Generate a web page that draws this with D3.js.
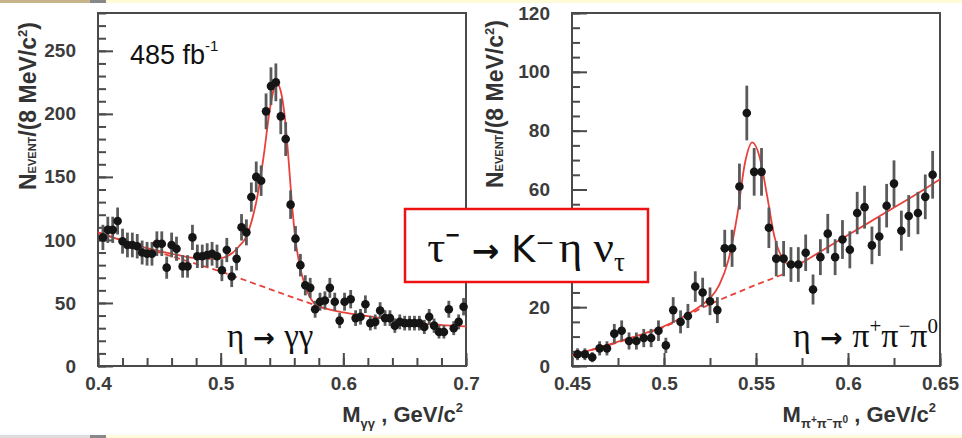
<!DOCTYPE html>
<html>
<head>
<meta charset="utf-8">
<script src="https://cdn.jsdelivr.net/npm/d3@7"></script>
<style>
  body { margin: 0; background: #fff; }
  svg text { font-family: "Liberation Sans", Arial, sans-serif; }
</style>
</head>
<body>
<svg id="chart" width="962" height="438"></svg>
<script>
// ---- left panel: eta -> gamma gamma ----
var ggMass = [0.404,0.408,0.412,0.416,0.420,0.424,0.428,0.432,0.436,0.440,
              0.444,0.448,0.452,0.456,0.460,0.464,0.469,0.473,0.477,0.481,
              0.485,0.489,0.493,0.497,0.501,0.505,0.509,0.513,0.517,0.521,
              0.525,0.529,0.533,0.537,0.541,0.545,0.549,0.553,0.557,0.561,
              0.565,0.569,0.573,0.577,0.581,0.585,0.589,0.593,0.597,0.601,
              0.606,0.610,0.614,0.618,0.622,0.626,0.630,0.634,0.638,0.642,
              0.646,0.650,0.654,0.658,0.662,0.666,0.670,0.674,0.678,0.682,
              0.686,0.690,0.694,0.698];
var ggCounts = [102,108,108,115,99,96,96,95,90,89,
                89,97,97,78,96,93,79,79,102,87,
                87,88,89,87,76,92,71,85,110,106,
                134,150,147,202,222,225,198,180,128,101,
                80,64,62,45,51,52,62,51,36,51,
                53,38,39,49,34,35,44,38,38,32,
                35,34,34,34,34,31,39,32,27,27,
                45,30,35,47];
var ggErrors = [10,10.4,10.4,10.7,9.9,9.8,9.8,9.7,9.5,9.4,
                9.4,9.8,9.8,8.8,9.8,9.6,8.9,8.9,10,9.3,
                9.3,9.4,9.4,9.3,8.7,9.6,8.4,9.2,10.5,10.3,
                11.6,12.2,12.1,14.2,14.9,15,14.1,13.4,11.3,10,
                8.9,8,7.9,6.7,7.1,7.2,7.9,7.1,6,7.1,
                7.3,6.2,6.2,7,5.8,5.9,6.6,6.2,6.2,5.7,
                5.9,5.8,5.8,5.8,5.8,5.6,6.2,5.7,5.2,5.2,
                6.7,5.5,5.9,6.9];
var ggFitX = [0.400,0.420,0.440,0.460,0.470,0.480,0.490,0.500,0.505,0.510,0.515,0.520,0.525,0.530,0.535,
              0.540,0.5435,0.546,0.549,0.552,0.555,0.558,0.561,0.564,0.568,0.572,0.576,0.580,0.590,0.600,
              0.620,0.640,0.660,0.680,0.700];
var ggFitY = [106,99.5,93.5,89,87,85.5,85,85.5,87,90,95,101,114,135,166,
              203,220,224,218,200,168,130,100,82,66,56,50,47.5,44.5,42.5,
              39.5,36.5,34,32.5,31.5];
var ggBkgX = [0.400,0.420,0.440,0.460,0.480,0.500,0.520,0.540,0.560,0.578];
var ggBkgY = [106,99.5,93,87,81,75,68,61,54,48];
var ggXTicks = [0.4,0.5,0.6,0.7];
var ggXLabels = ["0.4","0.5","0.6","0.7"];
var ggYTicks = [0,50,100,150,200,250];
var ggYLabels = ["0","50","100","150","200","250"];

// ---- right panel: eta -> pi+ pi- pi0 ----
var pppMass = [0.453,0.457,0.461,0.465,0.469,0.473,0.477,0.481,0.485,0.489,
               0.493,0.497,0.501,0.505,0.509,0.513,0.517,0.521,0.525,0.529,
               0.533,0.537,0.541,0.545,0.549,0.553,0.557,0.561,0.565,0.569,
               0.573,0.577,0.581,0.585,0.589,0.593,0.597,0.601,0.605,0.609,
               0.613,0.617,0.621,0.625,0.629,0.633,0.638,0.642,0.646];
var pppCounts = [4,4,3,6,6,11,12,8.5,8.5,9.5,
                 9.5,12,7,19,15,17,27,25,22,19,
                 40,40,61,86,66,66,47,36.5,36.5,34.5,
                 34.5,38.5,26,37,45,37,43,39.5,52,54,
                 41,44,54.5,62,46,51,52,57.5,65];
var pppErrors = [2,2,1.7,2.4,2.4,3.3,3.5,2.9,2.9,3.1,
                 3.1,3.5,2.6,4.4,3.9,4.1,5.2,5,4.7,4.4,
                 6.3,6.3,7.8,9.3,8.1,8.1,6.9,6,6,5.9,
                 5.9,6.2,5.1,6.1,6.7,6.1,6.6,6.3,7.2,7.3,
                 6.4,6.6,7.4,7.9,6.8,7.1,7.2,7.6,8.1];
var pppFitX = [0.450,0.460,0.470,0.480,0.490,0.500,0.510,0.520,0.525,0.530,0.535,0.540,0.544,
               0.548,0.552,0.556,0.560,0.564,0.568,0.572,0.576,0.580,0.600,0.620,0.640,0.650];
var pppFitY = [3.6,5.4,7.3,9.2,11.2,13.5,16.6,20.5,23,27.5,36,52,69,
               76,71,58,44,37,34.5,34.5,35.5,37,44.5,52,59.5,63.5];
var pppBkgX = [0.450,0.460,0.470,0.480,0.490,0.500,0.510,0.520,0.530,0.540,0.550,0.560,0.566];
var pppBkgY = [3.6,5.3,7.1,9.0,11.0,13.2,16.2,19.5,22.4,25.0,27.6,30.0,31.5];
var pppXTicks = [0.45,0.5,0.55,0.6,0.65];
var pppXLabels = ["0.45","0.5","0.55","0.6","0.65"];
var pppYTicks = [0,20,40,60,80,100,120];
var pppYLabels = ["0","20","","60","80","100","120"]; // "40" sits under the decay box

var svg = d3.select("#chart");

// thin page bands at top and bottom edge
svg.append("rect").attr("x", 0).attr("y", 0).attr("width", 962).attr("height", 3).attr("fill", "#fffbd8");
svg.append("rect").attr("x", 0).attr("y", 0).attr("width", 90).attr("height", 3).attr("fill", "#c8b48c");
svg.append("rect").attr("x", 90).attr("y", 0).attr("width", 16).attr("height", 3).attr("fill", "#888");
svg.append("rect").attr("x", 0).attr("y", 435).attr("width", 962).attr("height", 3).attr("fill", "#fffbd8");
svg.append("rect").attr("x", 0).attr("y", 435).attr("width", 90).attr("height", 3).attr("fill", "#ddd");
svg.append("rect").attr("x", 90).attr("y", 435).attr("width", 16).attr("height", 3).attr("fill", "#888");

var RED = "#e8413b";

function drawPanel(p) {
    var x = d3.scaleLinear().domain(p.xDomain).range([p.left, p.right]);
    var y = d3.scaleLinear().domain(p.yDomain).range([p.bottom, p.top]);
    var g = svg.append("g");

    // minor + major ticks (pointing inward)
    g.append("g").attr("transform", "translate(0," + p.bottom + ")")
        .call(d3.axisBottom(x).tickValues(p.xMinor).tickSize(-8).tickSizeOuter(0).tickFormat(""));
    g.append("g").attr("transform", "translate(0," + p.bottom + ")")
        .call(d3.axisBottom(x).tickValues(p.xTicks).tickSize(-13).tickSizeOuter(0).tickPadding(11)
            .tickFormat(function (d, i) { return p.xLabels[i]; }));
    g.append("g").attr("transform", "translate(" + p.left + ",0)")
        .call(d3.axisLeft(y).tickValues(p.yMinor).tickSize(-8).tickSizeOuter(0).tickFormat(""));
    g.append("g").attr("transform", "translate(" + p.left + ",0)")
        .call(d3.axisLeft(y).tickValues(p.yTicks).tickSize(-15).tickSizeOuter(0).tickPadding(22)
            .tickFormat(function (d, i) { return p.yLabels[i]; }));
    g.selectAll(".domain").remove();
    g.selectAll(".tick line").attr("stroke", "#4a4a4a").attr("stroke-width", 2);
    g.selectAll(".tick text")
        .attr("font-family", "Liberation Sans, Arial, sans-serif")
        .attr("font-weight", "bold")
        .attr("font-size", 19)
        .attr("fill", "#3c3c3c");

    // frame
    g.append("rect")
        .attr("x", p.left).attr("y", p.top)
        .attr("width", p.right - p.left).attr("height", p.bottom - p.top)
        .attr("fill", "none").attr("stroke", "#4a4a4a").attr("stroke-width", 2);

    // background (dashed) and total fit (solid)
    var line = d3.line()
        .x(function (d) { return x(d[0]); })
        .y(function (d) { return y(d[1]); })
        .curve(d3.curveMonotoneX);
    g.append("path")
        .attr("d", line(d3.zip(p.bkgX, p.bkgY)))
        .attr("fill", "none").attr("stroke", RED).attr("stroke-width", 1.8)
        .attr("stroke-dasharray", "6,4");
    g.append("path")
        .attr("d", line(d3.zip(p.fitX, p.fitY)))
        .attr("fill", "none").attr("stroke", RED).attr("stroke-width", 1.8);

    // data with error bars
    var pts = d3.zip(p.mass, p.counts, p.errors);
    g.selectAll("line.err").data(pts).enter().append("line")
        .attr("class", "err")
        .attr("x1", function (d) { return x(d[0]); })
        .attr("x2", function (d) { return x(d[0]); })
        .attr("y1", function (d) { return y(d[1] - d[2]); })
        .attr("y2", function (d) { return y(d[1] + d[2]); })
        .attr("stroke", "#5a5a5a").attr("stroke-width", 2.8);
    g.selectAll("circle").data(pts).enter().append("circle")
        .attr("cx", function (d) { return x(d[0]); })
        .attr("cy", function (d) { return y(d[1]); })
        .attr("r", 4.3)
        .attr("fill", "#151515");
}

drawPanel({
    left: 98, right: 466, top: 13, bottom: 366,
    xDomain: [0.4, 0.7], yDomain: [0, 280],
    xTicks: ggXTicks, xLabels: ggXLabels, xMinor: d3.range(0.4, 0.7001, 0.02),
    yTicks: ggYTicks, yLabels: ggYLabels, yMinor: d3.range(0, 281, 10),
    mass: ggMass, counts: ggCounts, errors: ggErrors,
    fitX: ggFitX, fitY: ggFitY, bkgX: ggBkgX, bkgY: ggBkgY
});

drawPanel({
    left: 572, right: 940, top: 13, bottom: 366,
    xDomain: [0.45, 0.65], yDomain: [0, 120],
    xTicks: pppXTicks, xLabels: pppXLabels, xMinor: d3.range(0.45, 0.6501, 0.025),
    yTicks: pppYTicks, yLabels: pppYLabels, yMinor: d3.range(0, 121, 5),
    mass: pppMass, counts: pppCounts, errors: pppErrors,
    fitX: pppFitX, fitY: pppFitY, bkgX: pppBkgX, bkgY: pppBkgY
});

// y axis titles: N_EVENT/(8 MeV/c^2)
function yTitle(tx, ty) {
    var t = svg.append("text")
        .attr("transform", "translate(" + tx + "," + ty + ") rotate(-90)")
        .attr("font-weight", "bold").attr("font-size", 23).attr("fill", "#333");
    t.append("tspan").text("N");
    t.append("tspan").attr("font-size", 11).text("EVENT");
    t.append("tspan").text("/(8 MeV/c");
    t.append("tspan").attr("font-size", 13).attr("dy", -9).text("2");
    t.append("tspan").attr("dy", 9).text(")");
}
yTitle(36, 190);
yTitle(503, 188);

// x axis title, left: M_gg , GeV/c^2
var xt1 = svg.append("text").attr("x", 463).attr("y", 422).attr("text-anchor", "end")
    .attr("font-weight", "bold").attr("font-size", 22).attr("fill", "#333");
xt1.append("tspan").text("M");
xt1.append("tspan").attr("font-size", 13).attr("dy", 6).text("\u03b3\u03b3");
xt1.append("tspan").attr("dy", -6).text(" , GeV/c");
xt1.append("tspan").attr("font-size", 13).attr("dy", -10).text("2");

// x axis title, right: M_pi+pi-pi0 , GeV/c^2
var xt2 = svg.append("text").attr("x", 936).attr("y", 422).attr("text-anchor", "end")
    .attr("font-weight", "bold").attr("font-size", 22).attr("fill", "#333");
xt2.append("tspan").text("M");
xt2.append("tspan").attr("font-size", 13).attr("dy", 6).text("\u03c0");
xt2.append("tspan").attr("font-size", 10).attr("dy", -5).text("+");
xt2.append("tspan").attr("font-size", 13).attr("dy", 5).text("\u03c0");
xt2.append("tspan").attr("font-size", 10).attr("dy", -5).text("\u2212");
xt2.append("tspan").attr("font-size", 13).attr("dy", 5).text("\u03c0");
xt2.append("tspan").attr("font-size", 10).attr("dy", -5).text("0");
xt2.append("tspan").attr("dy", -1).text(" , GeV/c");
xt2.append("tspan").attr("font-size", 13).attr("dy", -10).text("2");

// luminosity
var lumi = svg.append("text").attr("x", 130).attr("y", 64)
    .attr("font-family", "DejaVu Sans, sans-serif").attr("font-size", 27).attr("fill", "#111");
lumi.append("tspan").text("485 fb");
lumi.append("tspan").attr("font-size", 15).attr("dy", -13).text("-1");

// decay labels
var SERIF = "Liberation Serif, Times New Roman, serif";
var SANS = "DejaVu Sans, sans-serif";
var lab1 = svg.append("text").attr("x", 227).attr("y", 347).attr("fill", "#111");
lab1.append("tspan").attr("font-family", SERIF).attr("font-size", 33).text("\u03b7");
lab1.append("tspan").attr("font-family", SANS).attr("font-weight", "bold").attr("font-size", 26).text(" \u2192 ");
lab1.append("tspan").attr("font-family", SERIF).attr("font-size", 33).text("\u03b3\u03b3");

var lab2 = svg.append("text").attr("x", 938).attr("y", 347).attr("text-anchor", "end").attr("fill", "#111");
lab2.append("tspan").attr("font-family", SERIF).attr("font-size", 34).text("\u03b7");
lab2.append("tspan").attr("font-family", SANS).attr("font-weight", "bold").attr("font-size", 27).text(" \u2192 ");
lab2.append("tspan").attr("font-family", SERIF).attr("font-size", 34).text("\u03c0");
lab2.append("tspan").attr("font-family", SERIF).attr("font-size", 21).attr("dy", -14).text("+");
lab2.append("tspan").attr("font-family", SERIF).attr("font-size", 34).attr("dy", 14).text("\u03c0");
lab2.append("tspan").attr("font-family", SERIF).attr("font-size", 21).attr("dy", -14).text("\u2212");
lab2.append("tspan").attr("font-family", SERIF).attr("font-size", 34).attr("dy", 14).text("\u03c0");
lab2.append("tspan").attr("font-family", SERIF).attr("font-size", 21).attr("dy", -14).text("0");

// decay channel box
svg.append("rect").attr("x", 405).attr("y", 209).attr("width", 243).attr("height", 73)
    .attr("fill", "#fff").attr("stroke", "#ee1111").attr("stroke-width", 2.5);
var box = svg.append("text").attr("x", 526).attr("y", 262).attr("text-anchor", "middle").attr("fill", "#111");
box.append("tspan").attr("font-family", SERIF).attr("font-size", 45).text("\u03c4\u207b");
box.append("tspan").attr("font-family", SANS).attr("font-weight", "bold").attr("font-size", 33).text(" \u2192 ");
box.append("tspan").attr("font-family", SANS).attr("font-size", 37).text("K\u207b");
box.append("tspan").attr("font-family", SERIF).attr("font-size", 45).attr("dx", 4).text("\u03b7 \u03bd");
box.append("tspan").attr("font-family", SERIF).attr("font-size", 27).attr("dy", 9).text("\u03c4");
</script>
</body>
</html>
